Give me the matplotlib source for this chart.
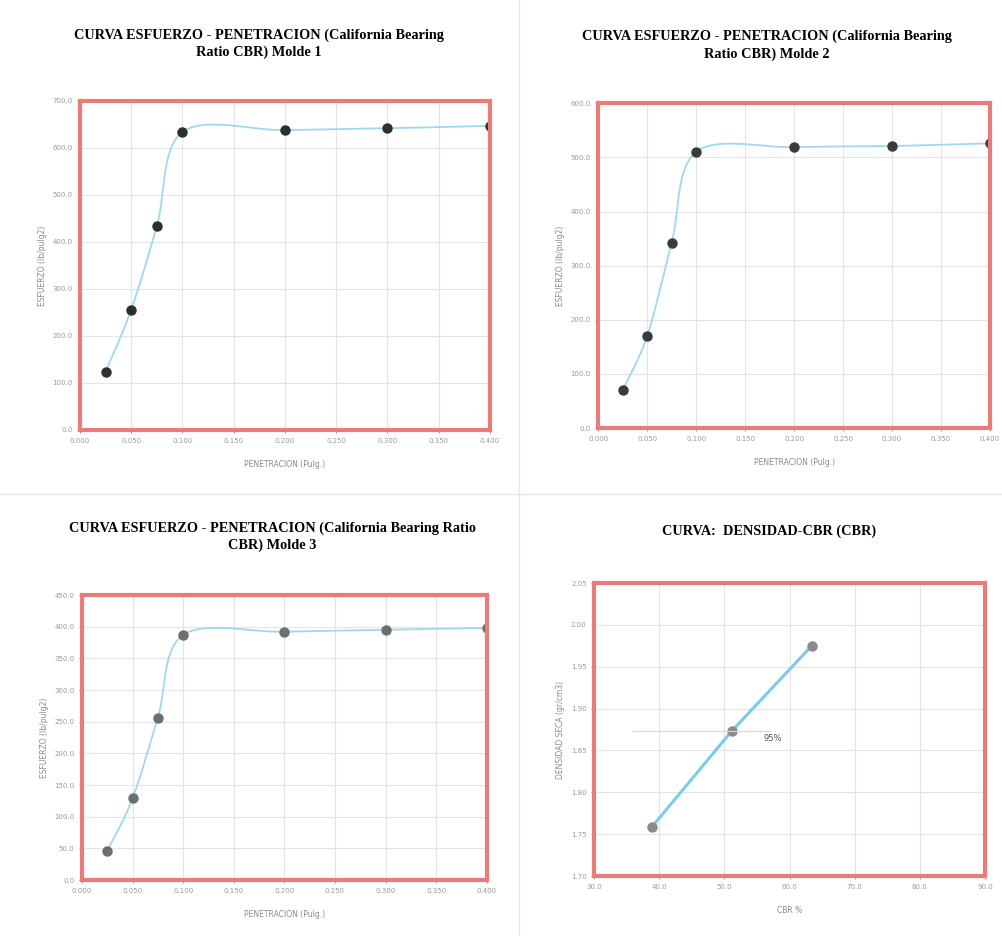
import numpy as np
import matplotlib
matplotlib.use("Agg")
import matplotlib.pyplot as plt
from matplotlib.lines import Line2D

# penetracion (pulg) y esfuerzo (lb/pulg2) de cada molde
pen = [0.025, 0.050, 0.075, 0.100, 0.200, 0.300, 0.400]
esf1 = [124, 256, 433, 634, 638, 642, 647]
esf2 = [70, 170, 342, 510, 519, 521, 526]
esf3 = [46, 129, 256, 387, 392, 395, 398]

# curva densidad - CBR
cbr = [38.9, 51.1, 63.4]
dens = [1.759, 1.873, 1.975]

titles = ["CURVA ESFUERZO - PENETRACION (California Bearing\nRatio CBR) Molde 1",
          "CURVA ESFUERZO - PENETRACION (California Bearing\nRatio CBR) Molde 2",
          "CURVA ESFUERZO - PENETRACION (California Bearing Ratio\nCBR) Molde 3",
          "CURVA:  DENSIDAD-CBR (CBR)"]

red = "#e87c78"
blue = "#9fd8ee"
grid = "#e4e4e4"
tick_col = "#9a9a9a"


def smooth(x, y, n=30):
    # catmull-rom like excel smoothed line
    x = np.asarray(x, float)
    y = np.asarray(y, float)
    px = np.concatenate([[x[0]], x, [x[-1]]])
    py = np.concatenate([[y[0]], y, [y[-1]]])
    xs, ys = [], []
    t = np.linspace(0, 1, n)
    for i in range(1, len(px) - 2):
        b0 = np.array([px[i], py[i]])
        b3 = np.array([px[i + 1], py[i + 1]])
        b1 = b0 + (np.array([px[i + 1], py[i + 1]]) - np.array([px[i - 1], py[i - 1]])) / 6
        b2 = b3 - (np.array([px[i + 2], py[i + 2]]) - np.array([px[i], py[i]])) / 6
        pts = ((1 - t) ** 3)[:, None] * b0 + (3 * (1 - t) ** 2 * t)[:, None] * b1 \
            + (3 * (1 - t) * t ** 2)[:, None] * b2 + (t ** 3)[:, None] * b3
        xs.extend(pts[:, 0])
        ys.extend(pts[:, 1])
    return xs, ys


def style(ax, xlabel, ylabel):
    ax.grid(True, color=grid, linewidth=0.8)
    ax.set_axisbelow(True)
    for s in ax.spines.values():
        s.set_color(red)
        s.set_linewidth(3)
    ax.tick_params(colors=tick_col, labelsize=5, length=2)
    ax.set_xlabel(xlabel, fontsize=5.5, color="#8a8a8a", labelpad=12)
    ax.set_ylabel(ylabel, fontsize=5.5, color="#8a8a8a", labelpad=4)


fig = plt.figure(figsize=(10.02, 9.36), dpi=100)
fig.patch.set_facecolor("white")

boxes = [[0.0798, 0.5406, 0.409, 0.3515],
         [0.597, 0.5427, 0.391, 0.347],
         [0.0818, 0.0598, 0.404, 0.3045],
         [0.593, 0.0641, 0.390, 0.313]]
series = [esf1, esf2, esf3]
ymax = [700, 600, 450]
ystep = [100, 100, 50]
mcol = ["#2e2e2e", "#3a3a3a", "#6e6e6e"]
tpos = [(0.258, 0.970), (0.765, 0.968), (0.272, 0.443), (0.768, 0.440)]

for k in range(3):
    ax = fig.add_axes(boxes[k])
    sx, sy = smooth(pen, series[k])
    ax.plot(sx, sy, color=blue, linewidth=1.3)
    ax.plot(pen, series[k], "o", color=mcol[k], markersize=6.5)
    ax.set_xlim(0, 0.4)
    ax.set_ylim(0, ymax[k])
    ax.set_xticks(np.arange(0, 0.401, 0.05))
    ax.set_yticks(np.arange(0, ymax[k] + 1, ystep[k]))
    ax.xaxis.set_major_formatter(plt.FormatStrFormatter("%.3f"))
    ax.yaxis.set_major_formatter(plt.FormatStrFormatter("%.1f"))
    style(ax, "PENETRACION (Pulg.)", "ESFUERZO (lb/pulg2)")

ax = fig.add_axes(boxes[3])
ax.plot(cbr, dens, color="#7ccbea", linewidth=2.2)
ax.plot(cbr, dens, "o", color="#8a8a8a", markersize=6.5)
ax.axhline(dens[1], xmin=0.1, xmax=0.45, color="#d8d8d8", linewidth=0.8)
ax.text(56.0, dens[1] - 0.012, "95%", fontsize=6, color="#555555")
ax.set_xlim(30, 90)
ax.set_ylim(1.70, 2.05)
ax.set_xticks(np.arange(30, 91, 10))
ax.set_yticks(np.arange(1.70, 2.051, 0.05))
ax.xaxis.set_major_formatter(plt.FormatStrFormatter("%.1f"))
ax.yaxis.set_major_formatter(plt.FormatStrFormatter("%.2f"))
style(ax, "CBR %", "DENSIDAD SECA (gr/cm3)")

for k in range(4):
    fig.text(tpos[k][0], tpos[k][1], titles[k], ha="center", va="top",
             fontsize=10.3, fontweight="bold", family="Liberation Serif",
             linespacing=1.4)

# bordes del escaneo
fig.add_artist(Line2D([0.518, 0.518], [0.0, 1.0], color="#e6e6e6", linewidth=1))
fig.add_artist(Line2D([0.0, 1.0], [0.472, 0.472], color="#e6e6e6", linewidth=1))

fig.savefig("out.png", dpi=100)
